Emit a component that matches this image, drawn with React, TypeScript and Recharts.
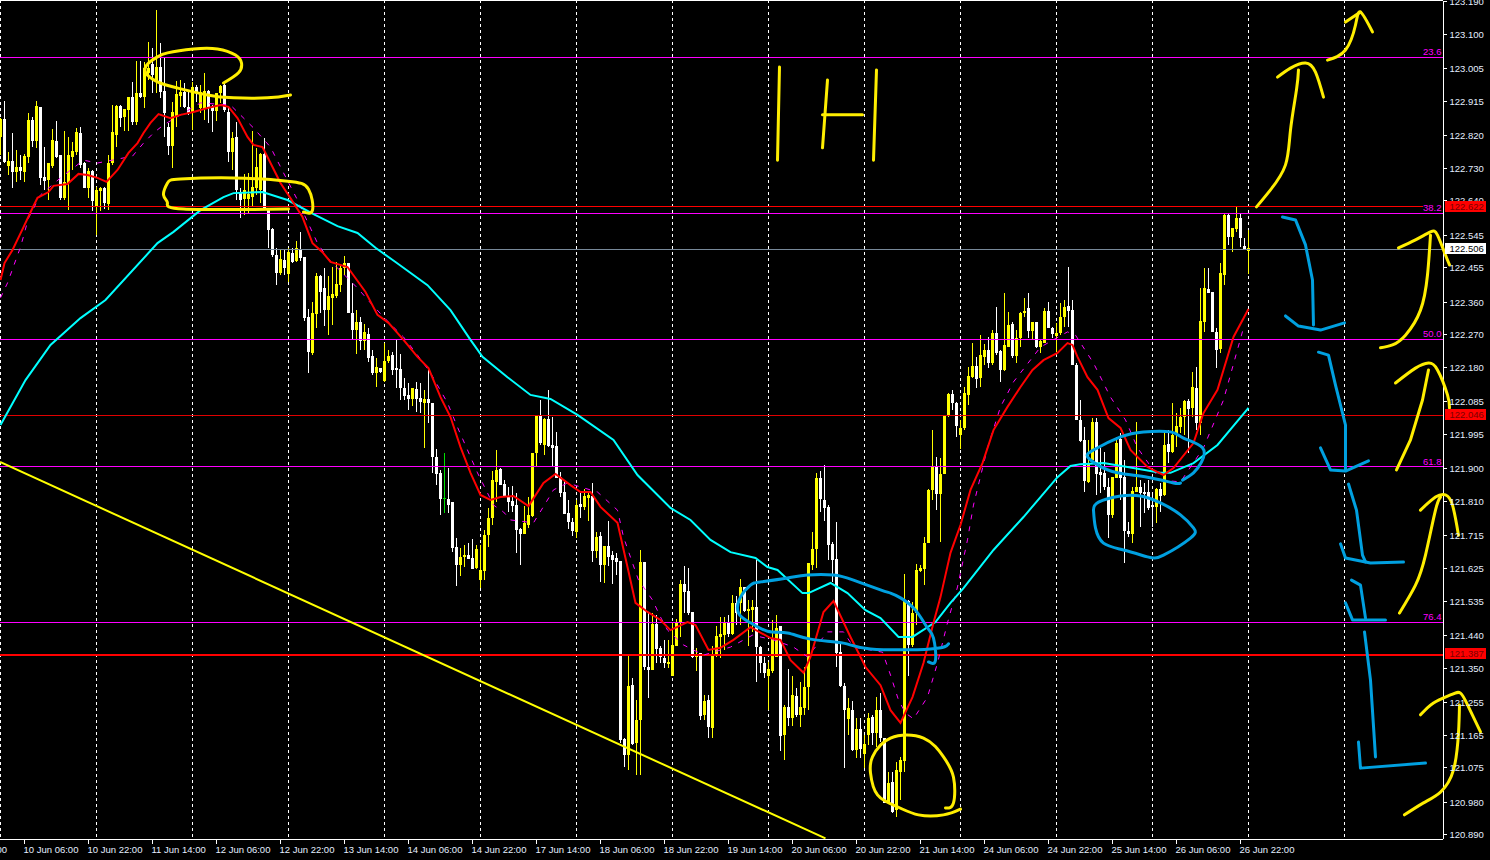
import React from 'react';
import { ComposedChart, Bar, Line, XAxis, YAxis, CartesianGrid, ReferenceLine } from 'recharts';

// [open, high, low, close], one row per hourly candle
const candlesA = [
[122.815,122.867,122.766,122.865],[122.865,122.915,122.743,122.746],[122.737,122.775,122.711,122.75],[122.75,122.826,122.674,122.72],[122.72,122.78,122.693,122.734],[122.734,122.766,122.697,122.722],[122.72,122.769,122.693,122.764],[122.762,122.881,122.743,122.863],[122.863,122.872,122.789,122.805],[122.805,122.915,122.785,122.901],
[122.898,122.9,122.683,122.704],[122.706,122.789,122.67,122.694],[122.697,122.743,122.642,122.743],[122.737,122.837,122.729,122.808],[122.805,122.86,122.757,122.762],[122.766,122.766,122.642,122.647],[122.647,122.832,122.642,122.693],[122.69,122.817,122.614,122.766],[122.762,122.803,122.725,122.777],[122.775,122.84,122.766,122.829],
[122.826,122.844,122.729,122.739],[122.743,122.748,122.674,122.674],[122.674,122.729,122.647,122.723],[122.722,122.725,122.613,122.639],[122.625,122.679,122.545,122.67],[122.667,122.679,122.613,122.676],[122.674,122.679,122.616,122.633],[122.631,122.766,122.614,122.743],[122.743,122.904,122.739,122.829],[122.821,122.904,122.789,122.901],
[122.901,122.904,122.843,122.869],[122.872,122.893,122.832,122.893],[122.89,122.927,122.832,122.925],[122.925,122.969,122.849,122.858],[122.856,123.026,122.849,122.936],[122.936,123.026,122.923,122.927],[122.927,123.024,122.895,123.005],[122.992,123.079,122.973,123.005],[123.016,123.061,122.936,122.987],[122.969,123.166,122.936,123.01],
[123.01,123.074,122.923,122.941],[122.944,123.038,122.817,122.881],[122.844,122.854,122.766,122.791],[122.791,122.913,122.731,122.884],[122.87,122.97,122.844,122.935],[122.93,122.973,122.9,122.939],[122.941,122.964,122.895,122.898],[122.9,122.941,122.877,122.881],[122.881,122.969,122.835,122.955],[122.955,122.959,122.913,122.941],
[122.895,122.959,122.881,122.941],[122.893,122.993,122.863,122.943],[122.943,122.946,122.854,122.9],[122.901,122.904,122.829,122.889],[122.889,122.936,122.861,122.936],[122.936,122.959,122.909,122.957],[122.959,122.964,122.886,122.89],[122.886,122.9,122.748,122.775],[122.775,122.831,122.725,122.812],[122.817,122.858,122.642,122.67],
[122.665,122.674,122.591,122.642],[122.644,122.714,122.601,122.67],[122.644,122.716,122.605,122.658],[122.651,122.832,122.624,122.679],[122.674,122.786,122.656,122.734],[122.67,122.771,122.633,122.769],[122.769,122.812,122.619,122.619],[122.614,122.619,122.509,122.559],[122.563,122.564,122.486,122.49],[122.49,122.509,122.407,122.44],
];
const candlesB = [
[122.44,122.504,122.435,122.478],[122.476,122.504,122.435,122.454],[122.438,122.509,122.417,122.499],[122.497,122.509,122.467,122.472],[122.474,122.529,122.472,122.509],[122.507,122.553,122.474,122.481],[122.484,122.486,122.309,122.317],[122.318,122.341,122.164,122.223],[122.221,122.361,122.214,122.329],[122.327,122.44,122.288,122.432],
[122.432,122.435,122.329,122.387],[122.4,122.453,122.294,122.338],[122.338,122.432,122.269,122.377],[122.371,122.456,122.297,122.383],[122.377,122.47,122.371,122.41],[122.407,122.463,122.389,122.453],[122.453,122.487,122.435,122.467],[122.467,122.467,122.329,122.329],[122.329,122.412,122.257,122.283],[122.283,122.338,122.217,122.306],
[122.304,122.32,122.228,122.254],[122.254,122.3,122.228,122.277],[122.271,122.288,122.196,122.207],[122.211,122.228,122.159,122.165],[122.165,122.207,122.127,122.18],[122.177,122.177,122.165,122.168],[122.142,122.246,122.141,122.198],[122.198,122.228,122.191,122.211],[122.214,122.223,122.159,122.173],[122.179,122.256,122.122,122.173],
[122.176,122.217,122.09,122.122],[122.124,122.15,122.09,122.101],[122.104,122.138,122.062,122.093],[122.093,122.122,122.073,122.122],[122.119,122.141,122.058,122.093],[122.095,122.136,122.053,122.085],[122.083,122.118,121.957,122.093],[122.093,122.173,122.026,122.083],[122.081,122.083,121.888,121.934],[121.934,121.954,121.855,121.885],
[121.889,121.897,121.773,121.816],[121.819,121.943,121.777,121.819],[121.816,121.901,121.777,121.8],[121.808,121.809,121.671,121.681],[121.685,121.708,121.578,121.635],[121.635,121.681,121.605,121.656],[121.656,121.69,121.63,121.662],[121.662,121.694,121.65,121.651],[121.653,121.705,121.624,121.624],[121.625,121.69,121.624,121.679],
[121.593,121.69,121.57,121.621],[121.619,121.731,121.593,121.717],[121.717,121.791,121.685,121.763],[121.763,121.894,121.745,121.869],[121.865,121.952,121.809,121.897],[121.9,121.901,121.855,121.855],[121.857,121.869,121.823,121.823],[121.825,121.851,121.782,121.809],[121.812,121.853,121.782,121.798],[121.8,121.832,121.667,121.731],
[121.733,121.736,121.635,121.72],[121.72,121.797,121.72,121.75],[121.745,121.823,121.736,121.773],[121.77,121.945,121.768,121.945],[121.943,122.049,121.906,122.049],[122.047,122.09,121.966,121.97],[121.966,122.039,121.938,122.038],[122.038,122.118,121.961,121.963],[121.966,122.044,121.906,121.957],[121.963,122.003,121.874,121.874],
];
const candlesC = [
[121.877,121.892,121.823,121.834],[121.837,121.87,121.776,121.776],[121.778,121.814,121.733,121.752],[121.752,121.764,121.715,121.729],[121.727,121.814,121.709,121.801],[121.803,121.837,121.764,121.794],[121.796,121.844,121.787,121.825],[121.819,121.837,121.756,121.828],[121.825,121.86,121.644,121.674],[121.672,121.727,121.653,121.711],
[121.715,121.727,121.589,121.635],[121.635,121.686,121.584,121.686],[121.686,121.755,121.632,121.658],[121.663,121.672,121.582,121.649],[121.653,121.667,121.607,121.644],[121.646,121.646,121.143,121.152],[121.155,121.157,121.078,121.109],[121.109,121.387,121.069,121.301],[121.304,121.322,121.138,121.141],[121.143,121.262,121.055,121.207],
[121.207,121.676,121.055,121.644],[121.642,121.644,121.345,121.354],[121.352,121.506,121.267,121.345],[121.345,121.502,121.345,121.472],[121.472,121.497,121.364,121.403],[121.405,121.41,121.364,121.38],[121.379,121.428,121.35,121.365],[121.362,121.428,121.35,121.368],[121.329,121.474,121.327,121.414],[121.41,121.485,121.41,121.476],
[121.476,121.594,121.437,121.583],[121.583,121.632,121.502,121.56],[121.564,121.626,121.497,121.502],[121.504,121.506,121.377,121.38],[121.38,121.405,121.341,121.389],[121.391,121.391,121.207,121.218],[121.221,121.276,121.207,121.258],[121.262,121.276,121.157,121.187],[121.184,121.41,121.157,121.387],[121.384,121.465,121.382,121.439],
[121.437,121.492,121.377,121.445],[121.442,121.492,121.4,121.476],[121.476,121.497,121.437,121.445],[121.445,121.552,121.442,121.531],[121.529,121.548,121.469,121.502],[121.529,121.596,121.469,121.575],[121.575,121.575,121.506,121.508],[121.508,121.538,121.411,121.514],[121.511,121.538,121.451,121.52],[121.518,121.649,121.313,121.408],
[121.408,121.41,121.336,121.364],[121.364,121.382,121.322,121.336],[121.327,121.368,121.235,121.347],[121.341,121.483,121.336,121.433],[121.382,121.497,121.382,121.46],[121.465,121.465,121.12,121.163],[121.166,121.247,121.097,121.244],[121.244,121.347,121.189,121.212],[121.212,121.327,121.189,121.276],[121.273,121.295,121.216,121.221],
[121.221,121.313,121.187,121.244],[121.239,121.354,121.221,121.297],[121.297,121.641,121.235,121.641],[121.635,121.727,121.621,121.679],[121.679,121.888,121.626,121.876],[121.876,121.893,121.782,121.816],[121.814,121.911,121.755,121.791],[121.796,121.801,121.649,121.69],[121.693,121.699,121.589,121.649],[121.652,121.752,121.354,121.391],
];
const candlesD = [
[121.394,121.419,121.299,121.301],[121.302,121.308,121.074,121.235],[121.209,121.267,121.166,121.239],[121.235,121.258,121.12,121.123],[121.123,121.212,121.101,121.181],[121.181,121.212,121.101,121.127],[121.113,121.166,121.074,121.141],[121.165,121.225,121.138,121.213],[121.214,121.22,121.138,121.17],[121.172,121.271,121.133,121.234],
[121.234,121.28,121.147,121.156],[121.156,121.156,120.977,120.978],[120.978,121.064,120.977,121.034],[121.035,121.064,120.949,120.954],[120.958,121.092,120.938,121.069],[121.064,121.105,120.986,121.096],[121.094,121.611,121.064,121.538],[121.536,121.538,121.328,121.414],[121.414,121.533,121.409,121.503],[121.503,121.636,121.469,121.621],
[121.618,121.634,121.616,121.627],[121.623,121.711,121.579,121.694],[121.694,121.843,121.694,121.841],[121.841,122.007,121.814,121.906],[121.908,121.932,121.786,121.83],[121.83,121.929,121.699,121.887],[121.887,122.046,121.887,122.046],[122.046,122.108,122.044,122.106],[122.106,122.117,122.062,122.081],[122.082,122.085,121.989,122.018],
[121.993,122.035,121.956,122.013],[122.012,122.127,122.007,122.11],[122.104,122.182,122.076,122.156],[122.154,122.246,122.15,122.184],[122.184,122.21,122.122,122.147],[122.15,122.269,122.127,122.214],[122.21,122.245,122.187,122.228],[122.228,122.265,122.177,122.191],[122.191,122.283,122.187,122.276],[122.276,122.348,122.214,122.219],
[122.226,122.228,122.141,122.173],[122.173,122.384,122.171,122.242],[122.237,122.334,122.237,122.297],[122.3,122.306,122.205,122.211],[122.211,122.283,122.193,122.26],[122.26,122.334,122.237,122.331],[122.329,122.371,122.32,122.337],[122.345,122.384,122.26,122.281],[122.281,122.306,122.256,122.304],[122.304,122.306,122.233,122.237],
[122.237,122.256,122.219,122.253],[122.248,122.343,122.246,122.337],[122.337,122.361,122.288,122.288],[122.29,122.292,122.26,122.272],[122.267,122.302,122.223,122.274],[122.276,122.357,122.269,122.32],[122.318,122.366,122.292,122.348],[122.349,122.458,122.292,122.337],[122.338,122.366,122.187,122.187],[122.187,122.193,122.035,122.035],
[122.035,122.09,121.975,121.978],[121.98,122.016,121.837,121.867],[121.865,121.98,121.86,121.915],[121.924,122.039,121.92,122.03],[122.03,122.039,121.828,121.886],[121.892,121.957,121.832,121.883],[121.888,121.947,121.842,121.849],[121.849,121.874,121.708,121.773],[121.773,121.878,121.763,121.877],[121.874,121.989,121.874,121.97],
[121.981,121.998,121.814,121.874],[121.878,121.924,121.641,121.729],[121.728,121.754,121.713,121.72],[121.719,121.851,121.694,121.839],[121.837,122.03,121.837,121.851],[121.851,121.869,121.74,121.832],[121.836,121.86,121.777,121.831],[121.836,121.869,121.786,121.791],[121.8,121.832,121.74,121.796],[121.794,121.846,121.751,121.844],
[121.843,121.86,121.782,121.825],[121.827,122.003,121.825,121.966],[121.969,122.007,121.915,121.946],[121.946,122.081,121.943,121.993],[121.993,122.053,121.961,122.018],[122.016,122.067,121.998,122.042],[122.044,122.09,121.993,122.088],[122.088,122.092,121.943,122.064],[122.067,122.168,122.044,122.125],[122.122,122.182,122.007,122.026],
[122.026,122.398,121.993,122.308],[122.306,122.453,122.279,122.398],[122.396,122.453,122.384,122.386],[122.387,122.389,122.277,122.277],[122.277,122.288,122.179,122.228],[122.231,122.467,122.219,122.44],[122.435,122.603,122.407,122.601],[122.601,122.603,122.518,122.541],[122.539,122.564,122.499,122.564],[122.561,122.624,122.555,122.591],
[122.591,122.605,122.513,122.536],[122.515,122.536,122.504,122.506],[122.502,122.559,122.438,122.509],
];

// moving averages: [hour index, price]
const maRed = [[0,122.421],[1,122.468],[3,122.504],[5.75,122.567],[8,122.62],[9.25,122.648],[12,122.664],[13.25,122.681],[16.75,122.686],[19.5,122.714],[21.75,122.711],[24.25,122.703],[26.5,122.692],[29.25,122.725],[32,122.772],[34.25,122.799],[35.75,122.827],[37.5,122.855],[39.5,122.879],[42.5,122.868],[45,122.877],[48.25,122.885],[51.75,122.896],[55,122.904],[57,122.899],[59.25,122.868],[61.75,122.816],[63.25,122.794],[65.5,122.788],[67.5,122.744],[70,122.689],[73.25,122.634],[75.5,122.595],[77,122.551],[78,122.523],[80.5,122.498],[82.5,122.471],[86.75,122.457],[91.25,122.388],[94.25,122.325],[97,122.303],[100.75,122.256],[104.25,122.209],[107,122.178],[110,122.098],[112.5,122.043],[115,121.96],[117.5,121.889],[120,121.828],[122.5,121.814],[125,121.822],[128.25,121.825],[132,121.797],[135.75,121.861],[138.75,121.886],[142.5,121.855],[145,121.836],[147.5,121.836],[150,121.795],[154.25,121.751],[156.75,121.629],[158.75,121.53],[161.75,121.505],[165,121.483],[167.5,121.455],[171.75,121.477],[173.75,121.469],[177,121.4],[180,121.406],[183.25,121.428],[187.5,121.463],[192.5,121.433],[195,121.428],[197.5,121.372],[200.75,121.337],[202.5,121.381],[205.75,121.505],[208.25,121.535],[212.5,121.436],[216.25,121.353],[220,121.303],[222.5,121.234],[225,121.199],[228,121.27],[230.75,121.364],[233.25,121.475],[235,121.546],[237.5,121.668],[240,121.745],[242.5,121.842],[245.5,121.916],[248.25,122.007],[251.75,122.071],[255,122.126],[258,122.173],[260.75,122.2],[264.25,122.22],[266.75,122.247],[268,122.242],[269.25,122.209],[271.75,122.153],[274.25,122.118],[277,122.04],[280,122.013],[282.5,121.952],[286.75,121.905],[290.75,121.883],[293.25,121.902],[298.25,121.971],[300.75,122.054],[304.25,122.118],[308.25,122.264],[312,122.341]];
const maCyan = [[0,122.021],[6.25,122.145],[12.5,122.242],[20,122.316],[26.25,122.366],[39.25,122.523],[43.25,122.554],[50,122.614],[55.75,122.65],[58.25,122.661],[65.5,122.664],[71.75,122.642],[78.25,122.603],[84.25,122.57],[89.25,122.551],[93.75,122.51],[98.75,122.471],[106.75,122.407],[112.5,122.338],[117.5,122.256],[120.5,122.209],[126.75,122.153],[132.5,122.104],[137.5,122.093],[144.25,122.049],[153.25,121.98],[159.25,121.883],[167.5,121.792],[172.5,121.759],[177.5,121.704],[182.5,121.67],[188.75,121.654],[191.75,121.629],[194.25,121.621],[200.5,121.557],[202,121.557],[207.5,121.585],[211.75,121.557],[216.25,121.51],[220,121.488],[224.5,121.436],[228,121.436],[233.75,121.477],[237.5,121.53],[240.75,121.571],[248.25,121.676],[255.75,121.767],[264.25,121.877],[267.5,121.908],[270,121.913],[275.75,121.916],[281.75,121.905],[290,121.889],[292.5,121.889],[298.25,121.916],[304.25,121.966],[312,122.068]];
const maMagenta = [[0,122.372],[1.75,122.413],[5,122.512],[7,122.592],[10,122.656],[15,122.703],[20.75,122.752],[24.25,122.744],[33,122.763],[35.75,122.799],[38.25,122.827],[40.75,122.849],[50,122.91],[57.5,122.904],[63.25,122.841],[67.5,122.788],[70.75,122.717],[74.25,122.642],[75.75,122.606],[79.25,122.523],[81.75,122.482],[89.25,122.399],[92.5,122.358],[97,122.305],[100.75,122.264],[104.25,122.214],[107.5,122.165],[111.75,122.082],[114.25,122.015],[116.75,121.952],[119.25,121.889],[123.25,121.8],[125.75,121.781],[127.5,121.759],[133.25,121.751],[136.75,121.814],[138.25,121.842],[141.75,121.861],[149.25,121.836],[154.25,121.786],[155.75,121.712],[158,121.64],[159.5,121.593],[163,121.538],[165,121.491],[166.75,121.455],[170.75,121.414],[175.75,121.386],[182.5,121.408],[188,121.441],[193.25,121.428],[198.25,121.408],[201.75,121.381],[206.75,121.45],[210.75,121.45],[213.25,121.408],[220.5,121.394],[222.5,121.331],[224.5,121.262],[226.25,121.226],[228.25,121.21],[231.75,121.27],[234.25,121.364],[236.75,121.475],[239.25,121.574],[241.75,121.704],[243.25,121.8],[246.75,121.958],[250,122.071],[253.25,122.14],[260,122.236],[266.75,122.278],[268.75,122.269],[273.25,122.192],[277.5,122.098],[281.25,122.035],[284.25,121.958],[290,121.869],[295,121.864],[300.75,121.958],[305.75,122.09],[310.75,122.289]];

// hand-drawn marks: [hour index, price]
const trendLine = [[-0.125,121.919],[206.25,120.88]];
const yellowStrokes = [
[[55.75,122.965],[59.5,122.993],[60.25,123.02],[58.75,123.042],[54.25,123.059],[48.25,123.059],[41.75,123.048],[39.25,123.037],[37,123.02],[36.25,122.995],[39.25,122.968],[44.25,122.951],[51.75,122.932],[58.25,122.924],[66.75,122.924],[72.5,122.932]],
[[75.75,122.609],[78,122.614],[77,122.672],[71.75,122.694],[58.25,122.703],[45,122.7],[41.75,122.689],[40.75,122.656],[41.75,122.634],[45.75,122.617],[72,122.617]],
[[194.75,123.009],[194.25,122.752]],
[[206.75,122.973],[205.5,122.786]],
[[205.5,122.877],[215.5,122.877]],
[[219,123.001],[218.25,122.752]],
[[236.25,120.964],[238.25,120.978],[238.25,121.049],[235.75,121.105],[230.75,121.157],[222.5,121.157],[218,121.105],[217.5,121.061],[219.25,121],[224.25,120.967],[229.5,120.945],[235.75,120.945],[240,120.961]],
[[314,122.623],[317.5,122.67],[321.25,122.739],[322.5,122.835],[324,122.946],[324.5,123.001]],
[[319.25,122.981],[322.5,123.006],[326.25,123.02],[328.75,122.995],[330.75,122.926]],
[[331.75,123.028],[336.25,123.056],[338.75,123.125],[340,123.161],[343,123.106]],
[[336.25,123.133],[340,123.161]],
[[345,122.234],[348,122.242],[351.25,122.269],[355,122.338],[356.75,122.435],[357.5,122.545]],
[[349.5,122.51],[353.75,122.532],[357.5,122.554],[359.25,122.545],[361.25,122.49],[362.25,122.463]],
[[349,121.897],[352.5,121.98],[355.5,122.09],[357,122.173]],
[[348.75,122.137],[353.75,122.178],[357,122.192],[359.25,122.173],[361.75,122.104],[362.25,122.068]],
[[349.75,121.502],[353.75,121.579],[356.25,121.662],[358.75,121.786],[360,121.822]],
[[355,121.786],[358.75,121.822],[361.25,121.828],[363,121.8],[364.5,121.717]],
[[351,120.945],[355.75,120.978],[360,121.008],[363.25,121.069],[364.5,121.171],[364.75,121.248]],
[[355,121.221],[358.25,121.254],[362.5,121.276],[365,121.281],[367,121.243],[370,121.174]],
];
const blueStrokes = [
[[232,121.367],[233.75,121.372],[233.25,121.433],[231.75,121.461],[228.75,121.51],[225,121.544],[222.5,121.557],[220,121.566],[213.25,121.593],[208.25,121.607],[201.75,121.607],[196.75,121.599],[190,121.588],[187.5,121.579],[185,121.546],[184.5,121.502],[187.5,121.475],[191.75,121.452],[196.75,121.447],[202.5,121.43],[210.75,121.419],[217.5,121.403],[232.5,121.403],[237,121.417]],
[[295,121.861],[293.25,121.861],[286.75,121.877],[279.25,121.889],[274.25,121.911],[271.75,121.933],[273.25,121.952],[280,121.988],[285.75,122.002],[292.5,122.002],[295.75,121.985],[300.5,121.958],[300.25,121.919],[298.25,121.889],[295.5,121.869]],
[[273.25,121.786],[274.5,121.808],[280,121.825],[285,121.825],[290,121.806],[295,121.773],[298.25,121.737],[297.5,121.709],[290.75,121.662],[286.75,121.657],[280.75,121.676],[275.75,121.695],[273.75,121.737],[273.25,121.786]],
[[320.5,122.595],[323.75,122.587],[326.25,122.518],[328,122.421],[328.25,122.297]],
[[321.25,122.322],[324.5,122.294],[330,122.283],[336,122.303]],
[[329.5,122.222],[332,122.214],[333.75,122.131],[336.25,122.021],[336.25,121.897]],
[[330,121.958],[332.5,121.897],[336.25,121.894],[342,121.922]],
[[337,121.858],[339,121.786],[340.5,121.662],[341.25,121.643]],
[[335,121.693],[336.25,121.654],[342.5,121.64],[350.75,121.643]],
[[337.75,121.593],[340,121.579],[341.25,121.488]],
[[336.25,121.53],[338,121.483],[346.25,121.483]],
[[341,121.45],[342.5,121.317],[343.75,121.105]],
[[339.5,121.146],[340,121.074],[356.25,121.088]],
];

const priceTicks = [123.19,123.1,123.005,122.915,122.82,122.73,122.64,122.545,122.455,122.36,122.27,122.18,122.085,121.995,121.9,121.81,121.715,121.625,121.535,121.44,121.35,121.255,121.165,121.075,120.98,120.89];
const priceBoxes = [122.622,122.506,122.046,121.387];
const boxFill = ['#ff0000','#ffffff','#ff0000','#ff0000'];
const boxText = ['#7a0000','#000000','#7a0000','#7a0000'];

const fibPrices = [123.036,122.605,122.257,121.906,121.476];
const fibNames = ['23.6','38.2','50.0','61.8','76.4'];

const dayLines = [0,24,48,72,96,120,144,168,192,216,240,264,288,312,336];
const timeTicks = [-0.125,6,22,38,54,70,86,102,118,134,150,166,182,198,214,230,246,262,278,294,310];
const timeLabels = ['7 Jun 14:00','10 Jun 06:00','10 Jun 22:00','11 Jun 14:00','12 Jun 06:00','12 Jun 22:00','13 Jun 14:00','14 Jun 06:00','14 Jun 22:00','17 Jun 14:00','18 Jun 06:00','18 Jun 22:00','19 Jun 14:00','20 Jun 06:00','20 Jun 22:00','21 Jun 14:00','24 Jun 06:00','24 Jun 22:00','25 Jun 14:00','26 Jun 06:00','26 Jun 22:00'];

const rows = [...candlesA, ...candlesB, ...candlesC, ...candlesD].map((c, i) => ({ i, o: c[0], h: c[1], l: c[2], c: c[3] }));
const pts = (a: number[][]) => a.map(([i, p]) => ({ i, p }));

// the frame of the price scale, in data units
const X_MIN = -0.125;
const X_FRAME = 360.75;
const Y_TOP = 123.1925;
const Y_BOTTOM = 120.8775;
const AXIS_GUTTER = 46.5;

const FONT = '"Liberation Sans", Arial, sans-serif';
const AXIS_TEXT = '#e4eeff';

const Candle = (props: any) => {
  const { x, y, width, height, payload } = props;
  const { o, h, l, c } = payload;
  const cx = Math.floor(x + width / 2);
  const span = h - l || 1;
  const toY = (v: number) => y + ((h - v) / span) * height;
  const top = toY(Math.max(o, c));
  const bottom = toY(Math.min(o, c));
  const color = o === c ? '#00e000' : c > o ? '#ffff00' : '#ffffff';
  return (
    <g shapeRendering="crispEdges">
      <rect x={cx} y={y} width={1} height={Math.max(height, 1)} fill={color} />
      {o === c ? (
        <rect x={cx - 1} y={top} width={3} height={1} fill={color} />
      ) : (
        <rect x={cx - 1} y={top} width={3} height={Math.max(bottom - top, 1)} fill={color} />
      )}
    </g>
  );
};

const TimeTick = (props: any) => {
  const { x, y, payload } = props;
  const idx = timeTicks.indexOf(payload.value);
  if (idx === 0) {
    return (
      <text x={7} y={y + 13} textAnchor="end" fontSize={9.5} fontFamily={FONT} fill={AXIS_TEXT}>
        {timeLabels[0]}
      </text>
    );
  }
  return (
    <g>
      <line x1={x} x2={x} y1={y} y2={y + 4} stroke="#fff" shapeRendering="crispEdges" />
      <text x={x - 1} y={y + 13} textAnchor="start" fontSize={9.5} fontFamily={FONT} fill={AXIS_TEXT}>
        {timeLabels[idx]}
      </text>
    </g>
  );
};

const PriceTick = (props: any) => {
  const { x, y, payload } = props;
  const ax = 1490 - AXIS_GUTTER;
  const v = payload.value as number;
  const b = priceBoxes.indexOf(v);
  if (b >= 0) {
    return (
      <g>
        <rect x={ax + 1.5} y={y - 6.5} width={41} height={11} fill={boxFill[b]} shapeRendering="crispEdges" />
        <text x={ax + 6} y={y + 2.5} fontSize={9.5} fontFamily={FONT} fill={boxText[b]}>
          {v.toFixed(3)}
        </text>
      </g>
    );
  }
  return (
    <g>
      <line x1={ax} x2={ax + 3} y1={y} y2={y} stroke="#fff" shapeRendering="crispEdges" />
      <text x={ax + 6} y={y + 3.5} fontSize={9.5} fontFamily={FONT} fill={AXIS_TEXT}>
        {v.toFixed(3)}
      </text>
    </g>
  );
};

const hLine = (p: number, end: number = X_FRAME) => [{ x: X_MIN, y: p }, { x: end, y: p }];

export default function App() {
  return (
    <div style={{ position: 'absolute', left: 0, top: 0, width: 1490, height: 860, background: '#000', overflow: 'hidden' }}>
      <ComposedChart width={1490} height={860} data={rows} margin={{ top: 0, right: 0, bottom: 0, left: 0 }} style={{ background: '#000' }}>
        <CartesianGrid vertical horizontal={false} verticalValues={dayLines} stroke="#ffffff" strokeDasharray="3 3" shapeRendering="crispEdges" />
        <XAxis
          type="number"
          dataKey="i"
          domain={[-0.125, 372.375]}
          ticks={timeTicks}
          interval={0}
          height={20.5}
          tickSize={0}
          tickMargin={0}
          tickLine={false}
          axisLine={false}
          tick={TimeTick}
        />
        <YAxis
          type="number"
          orientation="right"
          domain={[120.877, 123.194]}
          ticks={[...priceTicks, ...priceBoxes]}
          interval={0}
          width={0.01}
          tickSize={0}
          tickMargin={0}
          tickLine={false}
          axisLine={false}
          tick={PriceTick}
        />
        {fibPrices.map((p, k) => (
          <ReferenceLine
            key={fibNames[k]}
            segment={hLine(p)}
            stroke="#ff00ff"
            shapeRendering="crispEdges"
          />
        ))}
        <ReferenceLine segment={hLine(122.506)} stroke="#778899" shapeRendering="crispEdges" />
        <ReferenceLine segment={hLine(122.046)} stroke="#e00000" shapeRendering="crispEdges" />
        <ReferenceLine segment={hLine(122.624, 355.6)} stroke="#ff0000" shapeRendering="crispEdges" />
        <ReferenceLine segment={hLine(121.387)} stroke="#ff0000" strokeWidth={2} shapeRendering="crispEdges" />
        <ReferenceLine segment={hLine(Y_TOP)} stroke="#fff" shapeRendering="crispEdges" />
        <ReferenceLine segment={hLine(Y_BOTTOM)} stroke="#fff" shapeRendering="crispEdges" />
        <ReferenceLine segment={[{ x: X_FRAME, y: Y_TOP }, { x: X_FRAME, y: Y_BOTTOM }]} stroke="#fff" shapeRendering="crispEdges" />
        <Bar dataKey={(d: any) => [d.l, d.h]} barSize={3} shape={Candle} isAnimationActive={false} />
        <Line data={pts(trendLine)} dataKey="p" stroke="#ffff00" strokeWidth={2} dot={false} activeDot={false} isAnimationActive={false} />
        <Line data={pts(maMagenta)} dataKey="p" stroke="#ff00ff" strokeWidth={1} strokeDasharray="5 7" dot={false} activeDot={false} isAnimationActive={false} />
        <Line data={pts(maCyan)} dataKey="p" stroke="#00ffff" strokeWidth={2} dot={false} activeDot={false} isAnimationActive={false} />
        <Line data={pts(maRed)} dataKey="p" stroke="#ff0000" strokeWidth={2} dot={false} activeDot={false} isAnimationActive={false} />
        {fibPrices.map((p, k) => (
          <ReferenceLine
            key={'label' + fibNames[k]}
            segment={hLine(p)}
            stroke="none"
            label={{ value: fibNames[k], position: 'insideBottomRight', fill: '#ff00ff', fontSize: 9.5, fontFamily: FONT, offset: 2 }}
          />
        ))}
        {yellowStrokes.map((s, k) => (
          <Line key={'y' + k} data={pts(s)} type={s.length > 4 ? 'natural' : 'linear'} dataKey="p" stroke="#ffee00" strokeWidth={3} strokeLinejoin="round" strokeLinecap="round" dot={false} activeDot={false} isAnimationActive={false} />
        ))}
        {blueStrokes.map((s, k) => (
          <Line key={'b' + k} data={pts(s)} type={s.length > 5 ? 'natural' : 'linear'} dataKey="p" stroke="#00a0e0" strokeWidth={3} strokeLinejoin="round" strokeLinecap="round" dot={false} activeDot={false} isAnimationActive={false} />
        ))}
      </ComposedChart>
    </div>
  );
}
